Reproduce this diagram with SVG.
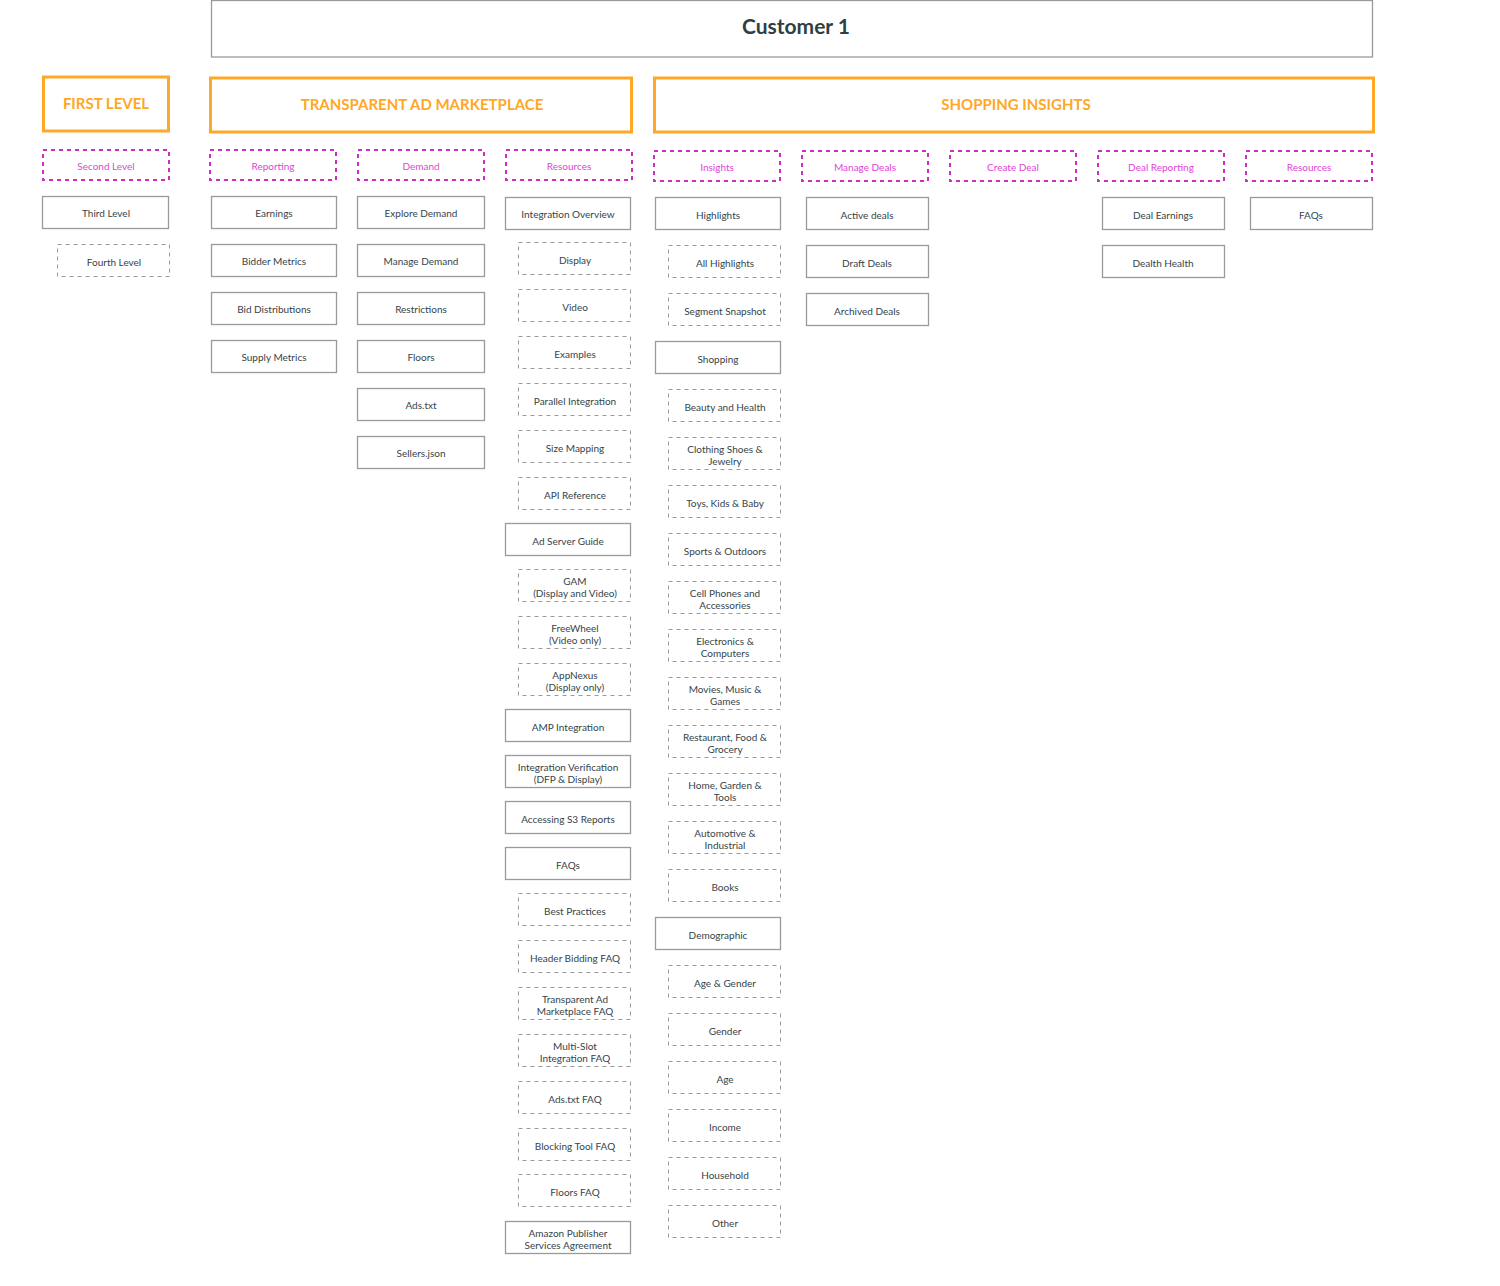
<svg xmlns="http://www.w3.org/2000/svg" width="1500" height="1286" viewBox="0 0 1500 1286">
<style>
.bg{fill:#ffffff}
.solid{fill:#ffffff;stroke:#9a9a9a;stroke-width:1.3}
.dash{fill:#ffffff;stroke:#9a9a9a;stroke-width:1;stroke-dasharray:4 4}
.mag{fill:#ffffff;stroke:#cc2fc4;stroke-width:2;stroke-dasharray:4 4}
.org{fill:#ffffff;stroke:#ffa726;stroke-width:3}
.top{fill:#ffffff;stroke:#9a9a9a;stroke-width:1.3}
text{font-family:Lato,"Open Sans","Liberation Sans",sans-serif;text-anchor:middle}
.t{font-size:10px;fill:#34444a}
.tm{font-size:10px;fill:#de45d6}
.to{font-size:15px;font-weight:bold;fill:#ffa726}
.tt{font-size:21px;font-weight:bold;fill:#2f3f43}
</style>
<rect class="bg" x="0" y="0" width="1500" height="1286"/>

<g id="customer-1"><rect class="top" x="211.5" y="0.5" width="1161" height="56.5"/><text class="tt" x="796" y="34">Customer 1</text></g>

<g id="first-level"><rect class="org" x="43.5" y="77" width="125" height="54"/><text class="to" x="106" y="109">FIRST LEVEL</text></g>
<g id="tam"><rect class="org" x="210.5" y="78" width="421" height="54"/><text class="to" x="422" y="110">TRANSPARENT AD MARKETPLACE</text></g>
<g id="shopping-insights"><rect class="org" x="654.5" y="78" width="719" height="54"/><text class="to" x="1016" y="110">SHOPPING INSIGHTS</text></g>

<g id="second-level"><rect class="mag" x="43" y="150" width="126" height="30"/><text class="tm" x="106" y="170">Second Level</text></g>
<g id="reporting"><rect class="mag" x="210" y="150" width="126" height="30"/><text class="tm" x="273" y="170">Reporting</text></g>
<g id="demand"><rect class="mag" x="358" y="150" width="126" height="30"/><text class="tm" x="421" y="170">Demand</text></g>
<g id="resources-tam"><rect class="mag" x="506" y="150" width="126" height="30"/><text class="tm" x="569" y="170">Resources</text></g>
<g id="insights"><rect class="mag" x="654" y="151" width="126" height="30"/><text class="tm" x="717" y="171">Insights</text></g>
<g id="manage-deals"><rect class="mag" x="802" y="151" width="126" height="30"/><text class="tm" x="865" y="171">Manage Deals</text></g>
<g id="create-deal"><rect class="mag" x="950" y="151" width="126" height="30"/><text class="tm" x="1013" y="171">Create Deal</text></g>
<g id="deal-reporting"><rect class="mag" x="1098" y="151" width="126" height="30"/><text class="tm" x="1161" y="171">Deal Reporting</text></g>
<g id="resources-si"><rect class="mag" x="1246" y="151" width="126" height="30"/><text class="tm" x="1309" y="171">Resources</text></g>

<g id="third-level"><rect class="solid" x="42.5" y="196.5" width="126" height="32"/><text class="t" x="106" y="217">Third Level</text></g>
<g id="fourth-level"><rect class="dash" x="57.5" y="244.5" width="112" height="32"/><text class="t" x="114" y="266">Fourth Level</text></g>

<g id="earnings"><rect class="solid" x="211.5" y="196.5" width="125" height="32"/><text class="t" x="274" y="217">Earnings</text></g>
<g id="bidder-metrics"><rect class="solid" x="211.5" y="244.5" width="125" height="32"/><text class="t" x="274" y="265">Bidder Metrics</text></g>
<g id="bid-distributions"><rect class="solid" x="211.5" y="292.5" width="125" height="32"/><text class="t" x="274" y="313">Bid Distributions</text></g>
<g id="supply-metrics"><rect class="solid" x="211.5" y="340.5" width="125" height="32"/><text class="t" x="274" y="361">Supply Metrics</text></g>

<g id="explore-demand"><rect class="solid" x="357.5" y="196.5" width="127" height="32"/><text class="t" x="421" y="217">Explore Demand</text></g>
<g id="manage-demand"><rect class="solid" x="357.5" y="244.5" width="127" height="32"/><text class="t" x="421" y="265">Manage Demand</text></g>
<g id="restrictions"><rect class="solid" x="357.5" y="292.5" width="127" height="32"/><text class="t" x="421" y="313">Restrictions</text></g>
<g id="floors"><rect class="solid" x="357.5" y="340.5" width="127" height="32"/><text class="t" x="421" y="361">Floors</text></g>
<g id="ads-txt"><rect class="solid" x="357.5" y="388.5" width="127" height="32"/><text class="t" x="421" y="409">Ads.txt</text></g>
<g id="sellers-json"><rect class="solid" x="357.5" y="436.5" width="127" height="32"/><text class="t" x="421" y="457">Sellers.json</text></g>

<g id="integration-overview"><rect class="solid" x="505.5" y="197.5" width="125" height="32"/><text class="t" x="568" y="218">Integration Overview</text></g>
<g id="display"><rect class="dash" x="518.5" y="242.5" width="112" height="32"/><text class="t" x="575" y="264">Display</text></g>
<g id="video"><rect class="dash" x="518.5" y="289.5" width="112" height="32"/><text class="t" x="575" y="311">Video</text></g>
<g id="examples"><rect class="dash" x="518.5" y="336.5" width="112" height="32"/><text class="t" x="575" y="358">Examples</text></g>
<g id="parallel-integration"><rect class="dash" x="518.5" y="383.5" width="112" height="32"/><text class="t" x="575" y="405">Parallel Integration</text></g>
<g id="size-mapping"><rect class="dash" x="518.5" y="430.5" width="112" height="32"/><text class="t" x="575" y="452">Size Mapping</text></g>
<g id="api-reference"><rect class="dash" x="518.5" y="477.5" width="112" height="32"/><text class="t" x="575" y="499">API Reference</text></g>
<g id="ad-server-guide"><rect class="solid" x="505.5" y="523.5" width="125" height="32"/><text class="t" x="568" y="545">Ad Server Guide</text></g>
<g id="gam"><rect class="dash" x="518.5" y="569.5" width="112" height="32"/><text class="t" x="575" y="585">GAM</text><text class="t" x="575" y="597">(Display and Video)</text></g>
<g id="freewheel"><rect class="dash" x="518.5" y="616.5" width="112" height="32"/><text class="t" x="575" y="632">FreeWheel</text><text class="t" x="575" y="644">(Video only)</text></g>
<g id="appnexus"><rect class="dash" x="518.5" y="663.5" width="112" height="32"/><text class="t" x="575" y="679">AppNexus</text><text class="t" x="575" y="691">(Display only)</text></g>
<g id="amp-integration"><rect class="solid" x="505.5" y="709.5" width="125" height="32"/><text class="t" x="568" y="731">AMP Integration</text></g>
<g id="integration-verification"><rect class="solid" x="505.5" y="755.5" width="125" height="32"/><text class="t" x="568" y="771">Integration Verification</text><text class="t" x="568" y="783">(DFP &amp; Display)</text></g>
<g id="accessing-s3"><rect class="solid" x="505.5" y="801.5" width="125" height="32"/><text class="t" x="568" y="823">Accessing S3 Reports</text></g>
<g id="faqs-tam"><rect class="solid" x="505.5" y="847.5" width="125" height="32"/><text class="t" x="568" y="869">FAQs</text></g>
<g id="best-practices"><rect class="dash" x="518.5" y="893.5" width="112" height="32"/><text class="t" x="575" y="915">Best Practices</text></g>
<g id="header-bidding-faq"><rect class="dash" x="518.5" y="940.5" width="112" height="32"/><text class="t" x="575" y="962">Header Bidding FAQ</text></g>
<g id="tam-faq"><rect class="dash" x="518.5" y="987.5" width="112" height="32"/><text class="t" x="575" y="1003">Transparent Ad</text><text class="t" x="575" y="1015">Marketplace FAQ</text></g>
<g id="multi-slot-faq"><rect class="dash" x="518.5" y="1034.5" width="112" height="32"/><text class="t" x="575" y="1050">Multi-Slot</text><text class="t" x="575" y="1062">Integration FAQ</text></g>
<g id="ads-txt-faq"><rect class="dash" x="518.5" y="1081.5" width="112" height="32"/><text class="t" x="575" y="1103">Ads.txt FAQ</text></g>
<g id="blocking-tool-faq"><rect class="dash" x="518.5" y="1128.5" width="112" height="32"/><text class="t" x="575" y="1150">Blocking Tool FAQ</text></g>
<g id="floors-faq"><rect class="dash" x="518.5" y="1174.5" width="112" height="32"/><text class="t" x="575" y="1196">Floors FAQ</text></g>
<g id="aps-agreement"><rect class="solid" x="505.5" y="1221.5" width="125" height="32"/><text class="t" x="568" y="1237">Amazon Publisher</text><text class="t" x="568" y="1249">Services Agreement</text></g>

<g id="highlights"><rect class="solid" x="655.5" y="197.5" width="125" height="32"/><text class="t" x="718" y="219">Highlights</text></g>
<g id="all-highlights"><rect class="dash" x="668.5" y="245.5" width="112" height="32"/><text class="t" x="725" y="267">All Highlights</text></g>
<g id="segment-snapshot"><rect class="dash" x="668.5" y="293.5" width="112" height="32"/><text class="t" x="725" y="315">Segment Snapshot</text></g>
<g id="shopping"><rect class="solid" x="655.5" y="341.5" width="125" height="32"/><text class="t" x="718" y="363">Shopping</text></g>
<g id="beauty-health"><rect class="dash" x="668.5" y="389.5" width="112" height="32"/><text class="t" x="725" y="411">Beauty and Health</text></g>
<g id="clothing"><rect class="dash" x="668.5" y="437.5" width="112" height="32"/><text class="t" x="725" y="453">Clothing Shoes &amp;</text><text class="t" x="725" y="465">Jewelry</text></g>
<g id="toys"><rect class="dash" x="668.5" y="485.5" width="112" height="32"/><text class="t" x="725" y="507">Toys, Kids &amp; Baby</text></g>
<g id="sports"><rect class="dash" x="668.5" y="533.5" width="112" height="32"/><text class="t" x="725" y="555">Sports &amp; Outdoors</text></g>
<g id="cell-phones"><rect class="dash" x="668.5" y="581.5" width="112" height="32"/><text class="t" x="725" y="597">Cell Phones and</text><text class="t" x="725" y="609">Accessories</text></g>
<g id="electronics"><rect class="dash" x="668.5" y="629.5" width="112" height="32"/><text class="t" x="725" y="645">Electronics &amp;</text><text class="t" x="725" y="657">Computers</text></g>
<g id="movies"><rect class="dash" x="668.5" y="677.5" width="112" height="32"/><text class="t" x="725" y="693">Movies, Music &amp;</text><text class="t" x="725" y="705">Games</text></g>
<g id="restaurant"><rect class="dash" x="668.5" y="725.5" width="112" height="32"/><text class="t" x="725" y="741">Restaurant, Food &amp;</text><text class="t" x="725" y="753">Grocery</text></g>
<g id="home-garden"><rect class="dash" x="668.5" y="773.5" width="112" height="32"/><text class="t" x="725" y="789">Home, Garden &amp;</text><text class="t" x="725" y="801">Tools</text></g>
<g id="automotive"><rect class="dash" x="668.5" y="821.5" width="112" height="32"/><text class="t" x="725" y="837">Automotive &amp;</text><text class="t" x="725" y="849">Industrial</text></g>
<g id="books"><rect class="dash" x="668.5" y="869.5" width="112" height="32"/><text class="t" x="725" y="891">Books</text></g>
<g id="demographic"><rect class="solid" x="655.5" y="917.5" width="125" height="32"/><text class="t" x="718" y="939">Demographic</text></g>
<g id="age-gender"><rect class="dash" x="668.5" y="965.5" width="112" height="32"/><text class="t" x="725" y="987">Age &amp; Gender</text></g>
<g id="gender"><rect class="dash" x="668.5" y="1013.5" width="112" height="32"/><text class="t" x="725" y="1035">Gender</text></g>
<g id="age"><rect class="dash" x="668.5" y="1061.5" width="112" height="32"/><text class="t" x="725" y="1083">Age</text></g>
<g id="income"><rect class="dash" x="668.5" y="1109.5" width="112" height="32"/><text class="t" x="725" y="1131">Income</text></g>
<g id="household"><rect class="dash" x="668.5" y="1157.5" width="112" height="32"/><text class="t" x="725" y="1179">Household</text></g>
<g id="other"><rect class="dash" x="668.5" y="1205.5" width="112" height="32"/><text class="t" x="725" y="1227">Other</text></g>

<g id="active-deals"><rect class="solid" x="806.5" y="197.5" width="122" height="32"/><text class="t" x="867" y="219">Active deals</text></g>
<g id="draft-deals"><rect class="solid" x="806.5" y="245.5" width="122" height="32"/><text class="t" x="867" y="267">Draft Deals</text></g>
<g id="archived-deals"><rect class="solid" x="806.5" y="293.5" width="122" height="32"/><text class="t" x="867" y="315">Archived Deals</text></g>

<g id="deal-earnings"><rect class="solid" x="1102.5" y="197.5" width="122" height="32"/><text class="t" x="1163" y="219">Deal Earnings</text></g>
<g id="dealth-health"><rect class="solid" x="1102.5" y="245.5" width="122" height="32"/><text class="t" x="1163" y="267">Dealth Health</text></g>

<g id="faqs-si"><rect class="solid" x="1250.5" y="197.5" width="122" height="32"/><text class="t" x="1311" y="219">FAQs</text></g>

<g id="connectors"/>
</svg>
